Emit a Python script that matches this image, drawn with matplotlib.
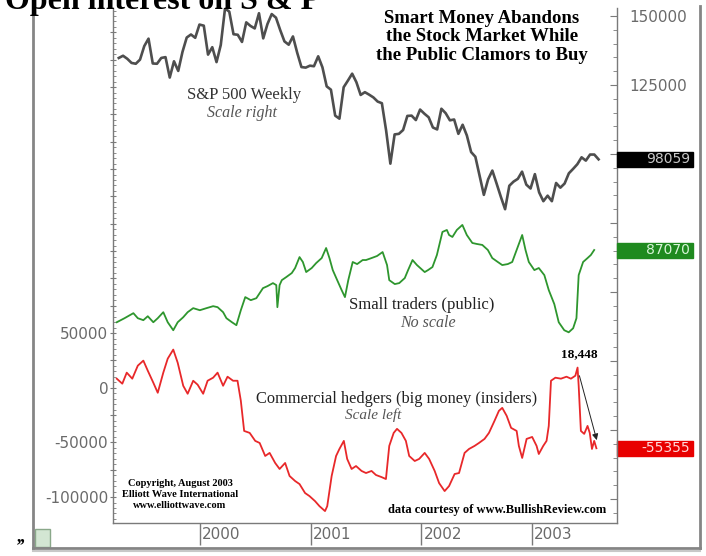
import matplotlib
matplotlib.use("Agg")
import matplotlib.pyplot as plt
import matplotlib.transforms as mtransforms
from matplotlib.patches import Rectangle
from matplotlib.lines import Line2D
import numpy as np
import pandas as pd

# ==============================================
# = Data      =
# ==============================================
# S&P 500 weekly closes, one every two weeks from 1999-04-09 (index points)
sp_start = "1999-04-09"
sp500 = [1348, 1356, 1345, 1330, 1327, 1342, 1391, 1418, 1328, 1327,
         1348, 1351, 1277, 1336, 1301, 1370, 1422, 1433, 1421, 1469,
         1465, 1360, 1387, 1333, 1395, 1527, 1516, 1434, 1432, 1406,
         1477, 1464, 1455, 1510, 1419, 1471, 1507, 1494, 1449, 1408,
         1396, 1426, 1367, 1315, 1313, 1320,
         1318, 1354, 1314, 1245, 1233, 1139, 1128, 1242, 1266, 1291,
         1260, 1214, 1224, 1215, 1205, 1190, 1184, 1085, 965, 1071,
         1073, 1087, 1138, 1139, 1123, 1161,
         1146, 1133, 1096, 1089, 1164, 1148, 1122, 1125, 1073, 1106,
         1067, 1007, 990, 921, 852, 908, 940, 893, 845, 800,
         885, 900, 910, 936, 889, 875,
         927, 861, 829, 849, 829, 895, 878, 893, 930, 946,
         963, 988, 976, 998, 998, 980.59]

# commercial hedgers net open interest (contracts, scale left)
hedger_dates = [1999.25, 1999.30, 1999.34, 1999.39, 1999.44, 1999.49, 1999.53, 1999.58,
                1999.62, 1999.67, 1999.71, 1999.76, 1999.80, 1999.85, 1999.89, 1999.94,
                1999.98, 2000.03, 2000.07, 2000.12, 2000.16, 2000.21, 2000.25, 2000.30,
                2000.34, 2000.37, 2000.40, 2000.45, 2000.50, 2000.54, 2000.59, 2000.63,
                2000.68, 2000.72, 2000.77, 2000.81, 2000.86, 2000.90, 2000.95, 2000.99,
                2001.04, 2001.08, 2001.13, 2001.15, 2001.19, 2001.23, 2001.26, 2001.30,
                2001.33, 2001.37, 2001.41, 2001.46, 2001.50, 2001.55, 2001.59, 2001.64,
                2001.68, 2001.71, 2001.75, 2001.78, 2001.82, 2001.86, 2001.89, 2001.94,
                2001.98, 2002.03, 2002.07, 2002.12, 2002.16, 2002.21, 2002.25, 2002.30,
                2002.34, 2002.39, 2002.43, 2002.48, 2002.52, 2002.57, 2002.61, 2002.66,
                2002.70, 2002.73, 2002.77, 2002.81, 2002.86, 2002.88, 2002.91, 2002.95,
                2003.00, 2003.04, 2003.06, 2003.10, 2003.13, 2003.15, 2003.17, 2003.21,
                2003.26, 2003.31, 2003.35, 2003.39, 2003.41, 2003.42, 2003.44, 2003.47,
                2003.50, 2003.52, 2003.54, 2003.56, 2003.58]
hedgers = [8300, 3700, 13800, 8300, 20200, 24800, 15600, 4600,
           -4600, 13800, 26600, 34900, 22900, 1800, -5500, 6400,
           2800, -5500, 6400, 9200, 13800, 1800, 10100, 6400,
           6400, -11900, -39500, -41300, -48600, -50500, -62400, -59600,
           -68800, -74300, -68800, -80700, -85300, -88100, -96300, -99100,
           -103700, -108300, -112800, -108300, -80700, -62400, -56000, -48600,
           -65100, -74300, -71600, -76100, -78000, -76100, -79800, -81700,
           -83500, -53200, -41300, -37600, -41300, -48600, -62400, -67000,
           -65100, -59600, -65100, -76100, -87200, -94500, -89900, -78900,
           -78000, -59600, -56000, -53200, -50500, -46800, -41300, -30300,
           -21100, -18400, -25700, -36700, -39500, -53200, -64200, -46800,
           -45000, -53200, -60600, -53200, -48600, -34900, 6400, 9200,
           8300, 10100, 8300, 11000, 18448, 1800, -39500, -42200,
           -34900, -41300, -56000, -48600, -55355]

# small traders net open interest (no scale)
small_dates = [1999.25, 1999.32, 1999.40, 1999.44, 1999.49, 1999.53, 1999.58, 1999.62,
               1999.67, 1999.71, 1999.76, 1999.80, 1999.85, 1999.89, 1999.94, 2000.00,
               2000.06, 2000.12, 2000.16, 2000.21, 2000.24, 2000.29, 2000.33, 2000.37,
               2000.41, 2000.46, 2000.51, 2000.57, 2000.61, 2000.66, 2000.69, 2000.70,
               2000.72, 2000.74, 2000.78, 2000.83, 2000.86, 2000.90, 2000.93, 2000.96,
               2001.01, 2001.05, 2001.10, 2001.14, 2001.17, 2001.20, 2001.24, 2001.28,
               2001.31, 2001.34, 2001.38, 2001.42, 2001.47, 2001.50, 2001.55, 2001.60,
               2001.65, 2001.69, 2001.71, 2001.76, 2001.80, 2001.85, 2001.88, 2001.92,
               2001.96, 2002.03, 2002.06, 2002.10, 2002.14, 2002.19, 2002.23, 2002.25,
               2002.28, 2002.32, 2002.37, 2002.41, 2002.46, 2002.50, 2002.55, 2002.60,
               2002.64, 2002.69, 2002.73, 2002.78, 2002.82, 2002.86, 2002.91, 2002.94,
               2002.97, 2003.02, 2003.06, 2003.11, 2003.15, 2003.20, 2003.24, 2003.29,
               2003.33, 2003.37, 2003.40, 2003.42, 2003.46, 2003.50, 2003.53, 2003.56]
small_traders = [21000, 24700, 29300, 24700, 22900, 26500, 21000, 24700,
                 30200, 21000, 13700, 21000, 25600, 30200, 33900, 32000,
                 33900, 35700, 34800, 30200, 24700, 21000, 18300, 32000,
                 44000, 41200, 43000, 52200, 54000, 56800, 55000, 34800,
                 55000, 59500, 62300, 66000, 70600, 80600, 76100, 66900,
                 70600, 75100, 79700, 88900, 79700, 68700, 59500, 50400,
                 44000, 59500, 76100, 74200, 77900, 77900, 79700, 81600,
                 85200, 73300, 59500, 55900, 56800, 61400, 68700, 77900,
                 73300, 66900, 68700, 71500, 82500, 103600, 105400, 100800,
                 99000, 105400, 110000, 100800, 93500, 92600, 91700, 87100,
                 79700, 76100, 73300, 74200, 76100, 87100, 100800, 87100,
                 76100, 68700, 70600, 64100, 50400, 37600, 21000, 13700,
                 11800, 15500, 24700, 64100, 76100, 79700, 82500, 87070]

year_ticks = [2000, 2001, 2002, 2003]
left_labels = [50000, 0, -50000, -100000]
right_labels = [150000, 125000]

SERIF = "Liberation Serif"
SANS = "DejaVu Sans"
AXIS_GREY = "#7a7a7a"
LABEL_GREY = "#6a6a6a"


def decimal_year(dates):
    return np.array([d.year + (d.dayofyear - 1) / 365.25 for d in dates])


def px_height(ax, px):
    # height of px screen pixels in data units of ax
    inv = ax.transData.inverted()
    return inv.transform((0, px))[1] - inv.transform((0, 0))[1]


def value_box(ax, value, text, face, fg):
    trans = mtransforms.blended_transform_factory(ax.transAxes, ax.transData)
    h = px_height(ax, 15)
    ax.add_patch(Rectangle((1.0, value - h / 2), 0.151, h, transform=trans,
                           facecolor=face, edgecolor=face, clip_on=False, zorder=5))
    ax.text(1.145, value, text, transform=trans, ha="right", va="center",
            fontsize=10, family=SANS, color=fg, clip_on=False, zorder=6)


def main():
    fig = plt.figure(figsize=(7.06, 5.56), dpi=100)
    ax = fig.add_axes([113 / 706, 33 / 556, 504 / 706, 515 / 556])
    ax2 = ax.twinx()
    ax3 = ax.twinx()

    sp_dates = decimal_year(pd.date_range(sp_start, periods=len(sp500), freq="14D"))

    # ==============================================
    # = Lines                                      =
    # ==============================================
    ax.plot(hedger_dates, hedgers, color="#e8282a", lw=1.3, zorder=3)
    ax2.plot(sp_dates, np.array(sp500) * 100, color="#4e4e4e", lw=1.9)
    ax3.plot(small_dates, small_traders, color="#2e962e", lw=1.3)

    ax.set_xlim(1999.216, 2003.766)
    ax.set_ylim(-123700, 347300)
    ax2.set_ylim(-33700, 152900)
    ax3.set_ylim(-162600, 308400)

    # ==============================================
    # = Axes styling                               =
    # ==============================================
    for a in (ax, ax2, ax3):
        a.set_facecolor("none")
        for s in a.spines.values():
            s.set_visible(False)
    ax.spines["left"].set_visible(True)
    ax.spines["bottom"].set_visible(True)
    ax2.spines["right"].set_visible(True)
    for s in (ax.spines["left"], ax.spines["bottom"], ax2.spines["right"]):
        s.set_color(AXIS_GREY)
        s.set_linewidth(1.0)

    left_ticks = np.arange(-100000, 325001, 25000)
    ax.set_yticks(left_ticks)
    ax.set_yticklabels([str(v) if v in left_labels else "" for v in left_ticks])
    ax.set_yticks(np.arange(-120000, 345001, 5000), minor=True)
    ax.tick_params(axis="y", which="major", direction="inout", length=5, width=0.8,
                   color=AXIS_GREY, pad=1, labelsize=11, labelcolor=LABEL_GREY)
    ax.tick_params(axis="y", which="minor", direction="in", length=2.5, width=0.6,
                   color=AXIS_GREY)

    right_ticks = np.arange(-25000, 150001, 25000)
    ax2.set_yticks(right_ticks)
    ax2.set_yticklabels([str(v) if v in right_labels else "" for v in right_ticks])
    ax2.set_yticks(np.arange(-30000, 152001, 5000), minor=True)
    ax2.tick_params(axis="y", which="major", direction="in", length=5, width=0.8,
                    color=AXIS_GREY, pad=9, labelsize=11, labelcolor=LABEL_GREY)
    ax2.tick_params(axis="y", which="minor", direction="in", length=3, width=0.6,
                    color=AXIS_GREY)
    ax3.set_yticks([])

    ax.set_xticks(year_ticks)
    ax.set_xticklabels([])
    ax.tick_params(axis="x", direction="out", length=16, width=1.0, color=AXIS_GREY)
    xtrans = mtransforms.blended_transform_factory(ax.transData, ax.transAxes)
    for yr in year_ticks:
        ax.text(yr + 0.02, -0.023, str(yr), transform=xtrans, ha="left", va="center",
                fontsize=11, family=SANS, color=LABEL_GREY)

    # ==============================================
    # = Value boxes on the right                   =
    # ==============================================
    value_box(ax2, sp500[-1] * 100, f"{sp500[-1] * 100:.0f}", "#000000", "#c8c8c8")
    value_box(ax3, small_traders[-1], f"{small_traders[-1]}", "#1f8a1f", "#d8f5d8")
    value_box(ax, hedgers[-1], f"{hedgers[-1]}", "#e80000", "#ffd8d8")

    # ==============================================
    # = Annotations                                =
    # ==============================================
    peak_i = hedgers.index(max(hedgers[-20:]))
    ax.annotate("18,448", xy=(hedger_dates[peak_i], hedgers[peak_i]),
                xytext=(1, 5), textcoords="offset points", ha="center", va="bottom",
                fontsize=9.5, family=SERIF, weight="bold")
    ax.annotate("", xy=(hedger_dates[-1] + 0.01, hedgers[-1] + 5000),
                xytext=(hedger_dates[peak_i] + 0.01, hedgers[peak_i] - 5000),
                arrowprops=dict(arrowstyle="-|>", color="#222222", lw=0.7,
                                mutation_scale=9))

    ax.text(0.732, 0.997, "Smart Money Abandons\nthe Stock Market While\nthe Public Clamors to Buy",
            transform=ax.transAxes, ha="center", va="top", fontsize=13.5,
            family=SERIF, weight="bold", linespacing=1.15)
    ax.text(0.260, 0.831, "S&P 500 Weekly", transform=ax.transAxes, ha="center",
            va="center", fontsize=12, family=SERIF, color="#333333")
    ax.text(0.256, 0.797, "Scale right", transform=ax.transAxes, ha="center",
            va="center", fontsize=11.5, family=SERIF, style="italic", color="#555555")
    ax.text(0.613, 0.423, "Small traders (public)", transform=ax.transAxes, ha="center",
            va="center", fontsize=12, family=SERIF, color="#222222")
    ax.text(0.625, 0.388, "No scale", transform=ax.transAxes, ha="center",
            va="center", fontsize=11.5, family=SERIF, style="italic", color="#555555")
    ax.text(0.563, 0.241, "Commercial hedgers (big money (insiders)", transform=ax.transAxes,
            ha="center", va="center", fontsize=11.8, family=SERIF, color="#222222")
    ax.text(0.516, 0.209, "Scale left", transform=ax.transAxes, ha="center",
            va="center", fontsize=11, family=SERIF, style="italic", color="#555555")
    ax.text(0.133, 0.055, "Copyright, August 2003\nElliott Wave International\nwww.elliottwave.com",
            transform=ax.transAxes, ha="center", va="center", fontsize=7.5,
            family=SERIF, weight="bold", linespacing=1.25)
    ax.text(0.762, 0.025, "data courtesy of www.BullishReview.com", transform=ax.transAxes,
            ha="center", va="center", fontsize=9, family=SERIF, weight="bold")

    # ==============================================
    # = Page frame and title                       =
    # ==============================================
    fx = lambda px: px / 706
    fy = lambda py: 1 - py / 556
    frame = dict(color="#858585", lw=2.0, transform=fig.transFigure)
    fig.add_artist(Line2D([fx(33), fx(33)], [fy(8), fy(548)], **frame))
    fig.add_artist(Line2D([fx(700), fx(700)], [fy(6), fy(548)], **frame))
    fig.add_artist(Line2D([fx(33), fx(700)], [fy(548), fy(548)], **frame))
    fig.add_artist(Line2D([fx(33), fx(700)], [fy(551), fy(551)], color="#c8c8c8", lw=1.5,
                          transform=fig.transFigure))
    fig.add_artist(Rectangle((fx(35), fy(547)), 15 / 706, 18 / 556, transform=fig.transFigure,
                             facecolor="#d3e6d3", edgecolor="#8aa88a", lw=1.0))
    fig.text(fx(17), fy(541), ",,", fontsize=13, family=SERIF, weight="bold",
             va="baseline", ha="left")
    fig.text(fx(5), fy(9), "Open interest on S & P", fontsize=23, family=SERIF,
             weight="bold", va="baseline", ha="left")

    fig.savefig("out.png", dpi=100, facecolor="white")


if __name__ == "__main__":
    main()
